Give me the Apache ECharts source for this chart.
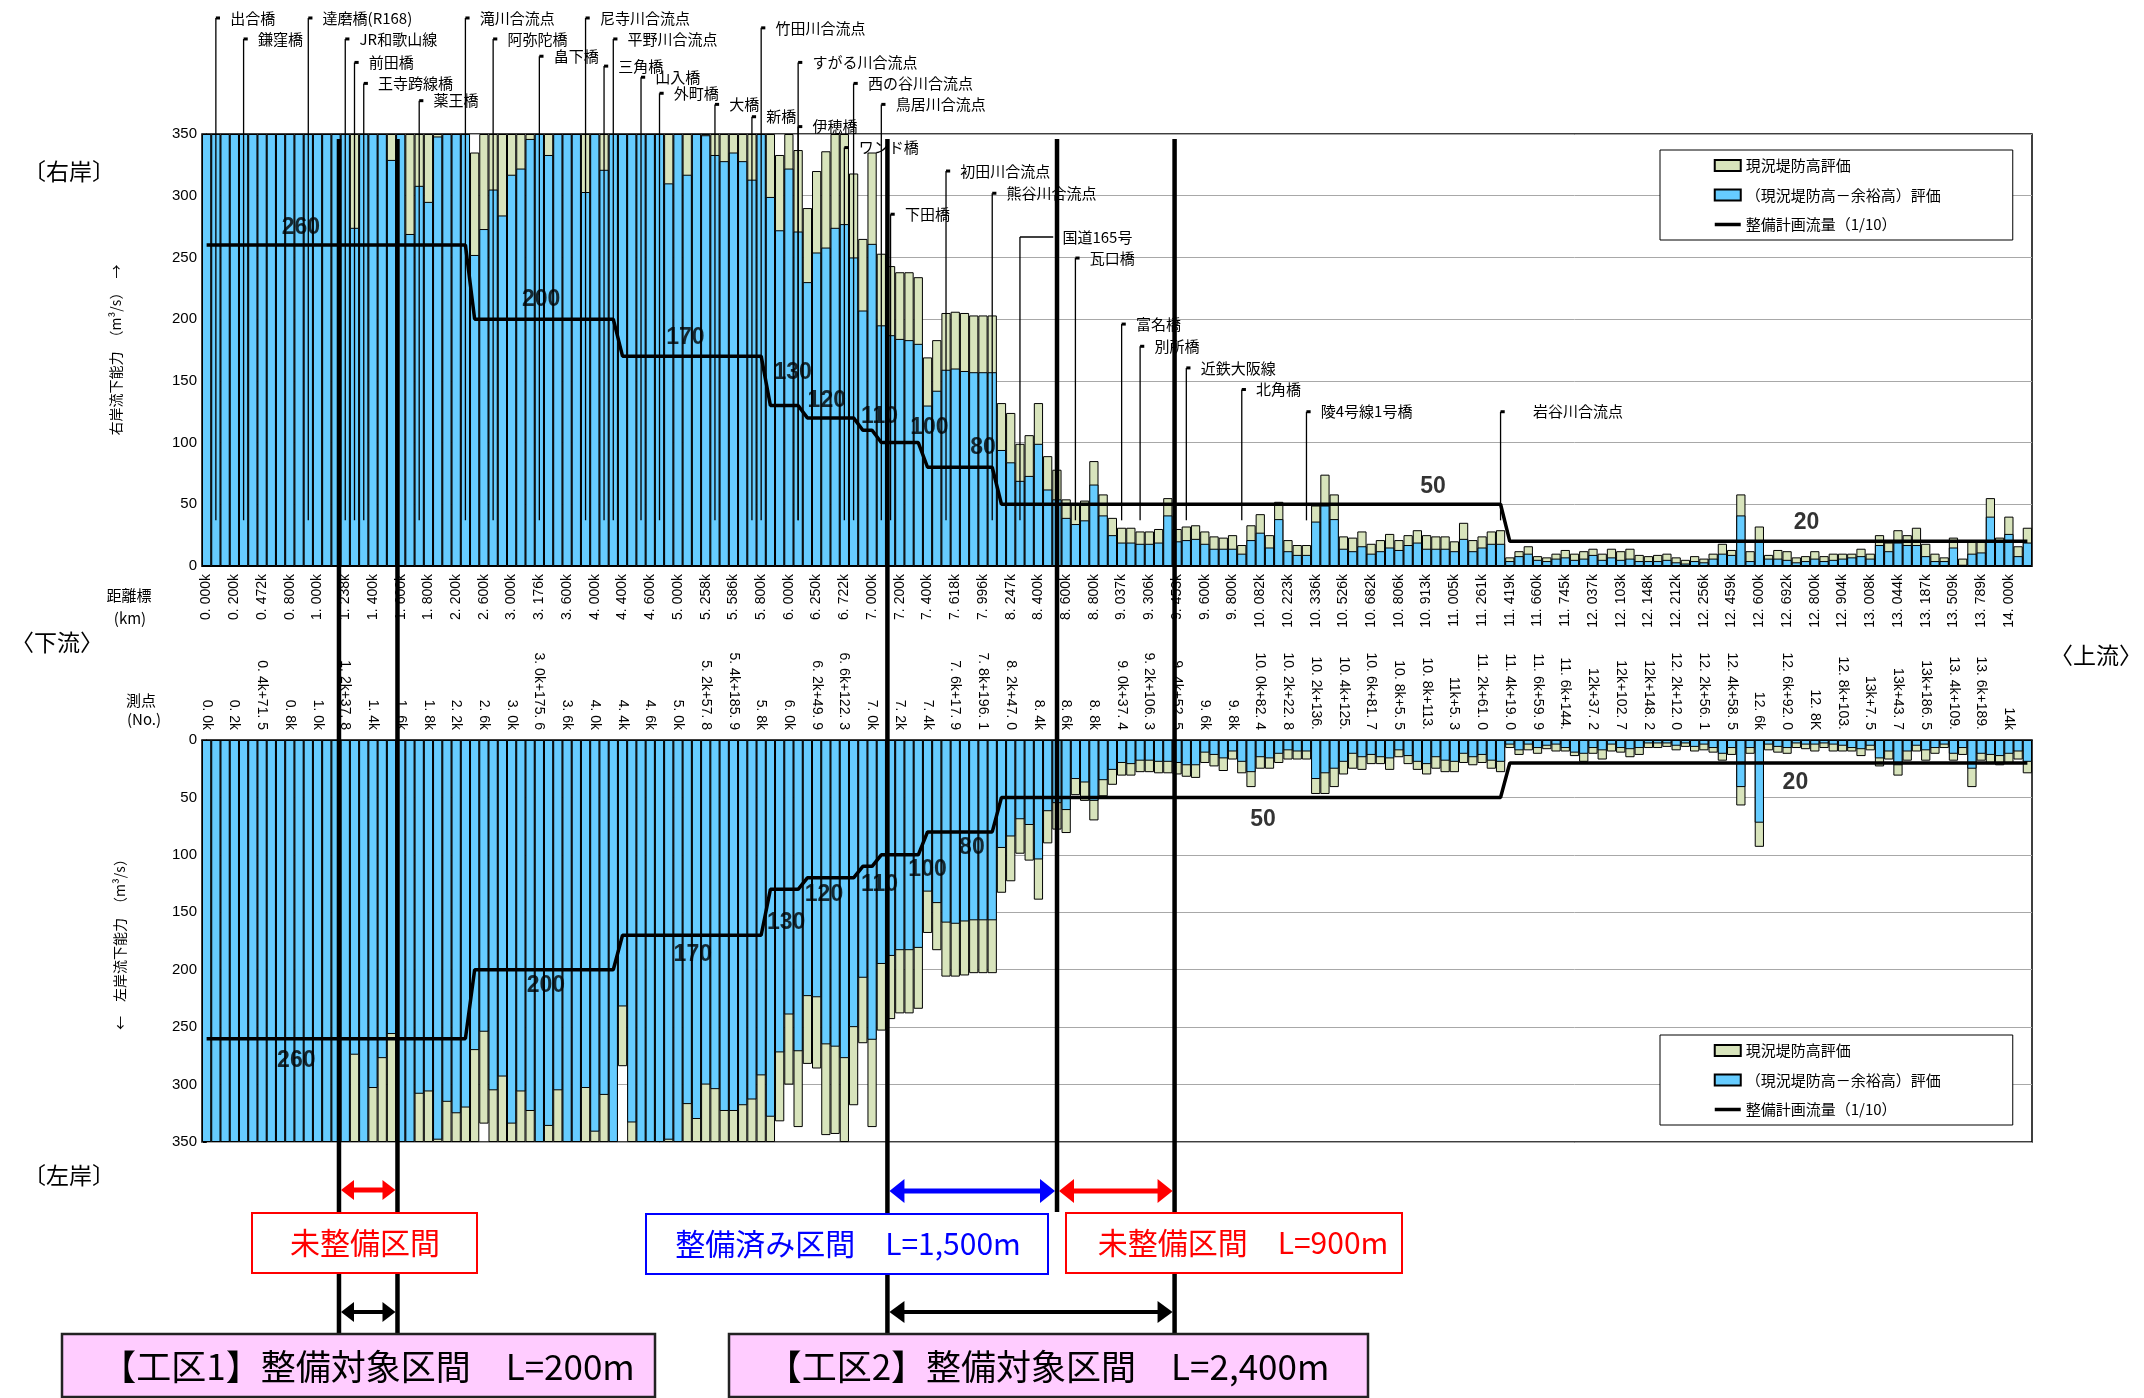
<!DOCTYPE html>
<html><head><meta charset="utf-8">
<script src="https://cdn.jsdelivr.net/npm/echarts@6/dist/echarts.min.js"></script>
<style>html,body{margin:0;padding:0;background:#fff}#c{width:2144px;height:1398px}</style>
</head><body><div id="c"></div>
<script>
const distLabels = ['0. 000k','0. 200k','0. 472k','0. 800k','1. 000k','1. 238k','1. 400k','1. 600k','1. 800k','2. 200k','2. 600k','3. 000k','3. 176k','3. 600k','4. 000k','4. 400k','4. 600k','5. 000k','5. 258k','5. 586k','5. 800k','6. 000k','6. 250k','6. 722k','7. 000k','7. 200k','7. 400k','7. 618k','7. 996k','8. 247k','8. 400k','8. 600k','8. 800k','9. 037k','9. 306k','9. 453k','9. 600k','9. 800k','10. 082k','10. 223k','10. 336k','10. 526k','10. 682k','10. 806k','10. 913k','11. 005k','11. 261k','11. 419k','11. 660k','11. 745k','12. 037k','12. 103k','12. 148k','12. 212k','12. 256k','12. 459k','12. 600k','12. 692k','12. 800k','12. 904k','13. 008k','13. 044k','13. 187k','13. 509k','13. 789k','14. 000k'];
const stationLabels = ['0. 0k','0. 2k','0. 4k+71. 5','0. 8k','1. 0k','1. 2k+37. 8','1. 4k','1. 6k','1. 8k','2. 2k','2. 6k','3. 0k','3. 0k+175. 6','3. 6k','4. 0k','4. 4k','4. 6k','5. 0k','5. 2k+57. 8','5. 4k+185. 9','5. 8k','6. 0k','6. 2k+49. 9','6. 6k+122. 3','7. 0k','7. 2k','7. 4k','7. 6k+17. 9','7. 8k+196. 1','8. 2k+47. 0','8. 4k','8. 6k','8. 8k','9. 0k+37. 4','9. 2k+106. 3','9. 4k+52. 5','9. 6k','9. 8k','10. 0k+82. 4','10. 2k+22. 8','10. 2k+136.','10. 4k+125.','10. 6k+81. 7','10. 8k+5. 5','10. 8k+113.','11k+5. 3','11. 2k+61. 0','11. 4k+19. 0','11. 6k+59. 9','11. 6k+144.','12k+37. 2','12k+102. 7','12k+148. 2','12. 2k+12. 0','12. 2k+56. 1','12. 4k+58. 5','12. 6k','12. 6k+92. 0','12. 8K','12. 8k+103.','13k+7. 5','13k+43. 7','13k+186. 5','13. 4k+109.','13. 6k+189.','14k'];

// right bank (upper)
const upperBlue = [
350,350,350,350,350,350,350,350,350,350,
350,350,350,350,350,350,274,350,350,350,
329,350,269,308,295,348,350,350,350,252,
273,305,284,317,322,346,350,333,350,350,
350,303,350,321,350,350,350,350,350,350,
310,350,317,350,349,333,328,335,328,313,
350,299,272,322,271,230,254,258,274,277,
250,207,261,195,187,184,183,180,130,142,
159,160,158,157,157,157,94,84,69,73,
99,62,54,39,34,37,66,41,25,19,
19,18,18,19,41,20,21,22,18,14,
14,14,10,21,27,15,38,12,9,9,
36,49,38,14,12,16,10,12,15,13,
17,19,14,14,14,12,22,12,15,18,
18,4,8,10,5,4,6,7,5,6,
9,5,7,5,6,4,4,4,5,3,
2,4,3,6,10,9,41,4,21,6,
6,5,3,4,6,4,5,6,7,8,
6,17,12,19,17,17,8,4,4,15,
1,10,11,40,21,26,8,19];
const upperGreen = [
350,350,350,350,350,350,350,350,350,350,
350,350,350,350,350,350,350,350,350,350,
350,350,350,350,350,350,350,350,350,335,
350,350,350,350,350,350,350,350,350,350,
350,350,350,350,350,350,350,350,350,350,
350,350,350,350,350,350,350,350,350,350,
350,350,333,350,337,290,320,336,350,350,
318,265,335,253,243,238,238,234,169,183,
205,206,205,203,203,203,132,124,99,106,
132,89,78,54,50,53,85,58,39,31,
31,28,28,30,55,30,32,33,28,24,
23,25,17,33,42,25,52,21,17,17,
49,74,58,24,23,28,18,21,26,21,
25,29,25,24,24,20,35,21,24,28,
29,7,12,16,8,7,10,13,10,12,
14,10,14,12,14,9,8,9,10,7,
5,8,6,10,18,13,58,12,32,9,
13,12,7,8,12,8,10,10,10,14,
10,25,19,29,25,31,18,10,7,23,
6,21,21,55,23,40,16,31];
// left bank (lower)
const lowerBlue = [
350,350,350,350,350,350,350,350,350,350,
350,350,350,350,350,350,274,350,303,277,
256,350,350,308,306,348,315,325,320,270,
254,305,293,334,306,323,350,336,305,350,
350,303,341,309,350,232,333,350,350,350,
348,350,317,330,300,304,323,323,318,313,
292,328,272,239,271,223,224,265,267,277,
250,207,261,195,188,183,183,181,132,142,
159,160,158,157,157,157,94,84,69,74,
104,62,55,61,34,37,53,35,26,20,
21,18,18,19,19,20,22,22,11,13,
16,10,19,28,15,16,12,9,10,10,
34,29,25,19,12,15,13,15,16,9,
14,19,21,15,18,19,12,15,13,18,
19,4,9,4,7,5,4,7,11,12,
7,9,4,7,8,7,3,3,3,5,
3,6,4,7,12,7,41,7,72,4,
6,7,3,4,4,3,4,5,7,8,
5,16,10,22,10,5,9,7,4,12,
7,25,12,13,14,12,10,19];
const lowerGreen = [
350,350,350,350,350,350,350,350,350,350,
350,350,350,350,350,350,350,350,350,350,
350,350,350,350,350,350,350,350,350,350,
334,350,350,350,350,350,350,350,350,350,
350,350,350,350,350,284,350,350,350,350,
350,350,350,350,350,350,350,350,350,350,
350,350,332,300,337,282,286,344,343,350,
318,264,337,253,243,238,238,234,168,183,
206,206,205,203,203,203,133,123,99,105,
139,90,78,81,48,53,70,49,39,31,
31,28,28,29,29,30,32,33,20,23,
27,17,29,41,25,25,20,17,17,17,
47,47,41,30,25,26,21,21,26,15,
21,26,30,25,28,28,20,22,20,25,
28,7,13,9,12,8,10,10,14,19,
12,17,10,11,15,13,7,7,6,9,
6,10,9,11,18,13,57,12,93,9,
11,12,7,8,10,7,10,10,10,14,
9,23,17,31,18,10,18,12,7,18,
13,41,18,21,22,20,17,29];

// plan discharge (1/10): [category index, m3/s]
const planSteps = [[0,260],[28,260],[29,200],[44,200],[45,170],[60,170],[61,130],[64,130],[65,120],[70,120],[71,110],[72,110],[73,100],[77,100],[78,80],[85,80],[86,50],[140,50],[141,20],[197,20]];
const planLabelsUpper = [[10.2,274,'260'],[36.2,216,'200'],[51.8,185,'170'],[63.4,157,'130'],[67.1,134,'120'],[72.8,121,'110'],[78.2,112,'100'],[84.0,96,'80'],[132.7,64,'50'],[173.1,35.5,'20']];
const planLabelsLower = [[9.7,279,'260'],[36.7,214,'200'],[52.6,187,'170'],[62.7,159,'130'],[66.8,135,'120'],[72.8,126,'110'],[78.0,113,'100'],[82.8,94,'80'],[114.3,69,'50'],[171.9,37,'20']];
// landmarks: [name, category index, label level (m3/s scale), label offset, connector]
const landmarks = [
['出合橋',1,444],['鎌窪橋',4,427],['達磨橋(R168)',11,444],['JR和歌山線',15,427],['前田橋',16,408],['王寺跨線橋',17,391],['薬王橋',23,377],
['滝川合流点',28,444],['阿弥陀橋',31,427],['畠下橋',36,413],['尼寺川合流点',41,444],['三角橋',43,405],['平野川合流点',44,427],['山入橋',47,396],['外町橋',49,383],
['大橋',55,374],['新橋',59,364],['竹田川合流点',60,436],['すがる川合流点',64,408],['伊穂橋',64,356],['西の谷川合流点',70,391],['鳥居川合流点',73,374],['ワンド橋',69,339],
['下田橋',74,285],['初田川合流点',80,320],['熊谷川合流点',85,302],['国道165号',88,266.5,4.6,3.6],['瓦口橋',94,249.5],['富名橋',99,196],['別所橋',101,178],
['近鉄大阪線',106,160.5],['北角橋',112,143],['陵4号線1号橋',119,125],['岩谷川合流点',140,125,3.5]];
const landmarkBase = 37;
// construction section boundaries (category units)
const sectionBounds = [14.32, 20.65, 73.66, 92.01, 104.73];

const names = ['現況堤防高評価','（現況堤防高－余裕高）評価','整備計画流量（1/10）'];
const JP = "'Noto Sans CJK JP','Noto Sans',sans-serif";
const NUM = "'Liberation Sans',Arial,sans-serif";
const GREEN = '#D8E4BC', BLUE = '#66CCFF';
const cats = upperBlue.map((_, i) => String(i));

function yAx(grid, inverse, name, gap) {
  return {
    type: 'value', gridIndex: grid, min: 0, max: 350, interval: 50, inverse: inverse,
    name: name, nameLocation: 'middle', nameGap: gap, nameRotate: 90,
    nameTextStyle: {fontSize: 14, fontFamily: JP, color: '#000'},
    axisLine: {show: true, lineStyle: {color: '#000', width: 1}},
    axisTick: {show: true, length: 4, lineStyle: {color: '#000'}},
    minorTick: {show: true, splitNumber: 5, length: 4, lineStyle: {color: '#000'}},
    axisLabel: {fontSize: 15, fontFamily: NUM, color: '#000', margin: 5},
    splitLine: {show: true, lineStyle: {color: '#A8A8A8', width: 1}}
  };
}
function catAx(grid, pos, labels, margin) {
  return {
    type: 'category', gridIndex: grid, data: cats, position: pos,
    axisLine: {show: true, onZero: false, lineStyle: {color: '#000', width: 1.2}},
    axisTick: {show: false},
    axisLabel: {interval: 2, rotate: 90, fontSize: 14, fontFamily: NUM, color: '#000', margin: margin,
      formatter: (v, i) => labels[Math.round(i / 3)] || ''},
    splitLine: {show: false}
  };
}
function barPair(xi, yi, g, b) {
  return [
    {type: 'bar', name: names[0], xAxisIndex: xi, yAxisIndex: yi, data: g, barGap: '-100%', barCategoryGap: '0%',
      itemStyle: {color: GREEN, borderColor: '#000', borderWidth: 1}, z: 2, silent: true},
    {type: 'bar', name: names[1], xAxisIndex: xi, yAxisIndex: yi, data: b, barGap: '-100%', barCategoryGap: '0%',
      itemStyle: {color: BLUE, borderColor: '#000', borderWidth: 1}, z: 2, silent: true}
  ];
}
function planLine(xi, yi) {
  return {type: 'line', name: names[2], xAxisIndex: xi, yAxisIndex: yi, data: planSteps, symbol: 'none',
    lineStyle: {color: '#000', width: 3.5}, itemStyle: {color: '#000'}, z: 5, silent: true, animation: false};
}
function planText(xi, yi, arr) {
  return {type: 'scatter', xAxisIndex: xi, yAxisIndex: yi, symbolSize: 0, z: 6, silent: true,
    data: arr.map(a => ({value: [a[0], a[1]], name: a[2]})),
    label: {show: true, position: 'inside', formatter: '{b}', fontSize: 23, fontWeight: 'bold', fontFamily: NUM, color: '#000'}};
}
function legendBox(top) {
  return {left: 1660, top: top, orient: 'vertical', itemGap: 14.5, itemWidth: 26, itemHeight: 11,
    padding: [8, 72, 8, 53], borderColor: '#000', borderWidth: 1, backgroundColor: '#fff',
    textStyle: {fontSize: 15, fontFamily: JP, color: '#000'}, selectedMode: false,
    data: [{name: names[0], icon: 'rect'}, {name: names[1], icon: 'rect'},
      {name: names[2], itemStyle: {opacity: 0}, lineStyle: {color: '#000', width: 3.5, opacity: 1}}]};
}

const option = {
  animation: false, backgroundColor: '#fff',
  textStyle: {fontFamily: JP},
  grid: [
    {left: 202, top: 134, width: 1830, height: 432, show: true, borderColor: '#000', borderWidth: 1.5, backgroundColor: '#fff'},
    {left: 202, top: 740, width: 1830, height: 402, show: true, borderColor: '#000', borderWidth: 1.5, backgroundColor: '#fff'}
  ],
  xAxis: [
    catAx(0, 'bottom', distLabels, 8),
    catAx(1, 'top', stationLabels, 10),
    {type: 'value', gridIndex: 0, min: -0.5, max: 197.5, show: false},
    {type: 'value', gridIndex: 1, min: -0.5, max: 197.5, show: false}
  ],
  yAxis: [
    yAx(0, false, '右岸流下能力　（m³/s）　→', 79),
    yAx(1, true, '←　左岸流下能力　（m³/s）', 75)
  ],
  legend: [legendBox(150), legendBox(1035)],
  series: [
    ...barPair(0, 0, upperGreen, upperBlue),
    ...barPair(1, 1, lowerGreen, lowerBlue),
    {type: 'custom', xAxisIndex: 2, yAxisIndex: 0, clip: false, z: 4, silent: true,
      data: landmarks.map(l => [l[1], l[2]]),
      renderItem: (params, api) => {
        const lm = landmarks[params.dataIndex];
        const off = lm[3] || 1.55, conn = lm[4] || 0.45;
        const top = api.coord([lm[1], lm[2]]);
        const bot = api.coord([lm[1], landmarkBase]);
        const c = api.coord([lm[1] + conn, lm[2]]);
        const t = api.coord([lm[1] + off, lm[2]]);
        return {type: 'group', children: [
          {type: 'line', shape: {x1: top[0], y1: top[1], x2: bot[0], y2: bot[1]}, style: {stroke: '#000', lineWidth: 1.3}},
          {type: 'line', shape: {x1: top[0], y1: top[1], x2: c[0], y2: c[1]}, style: {stroke: '#000', lineWidth: lm[4] ? 1.5 : 3}},
          {type: 'text', x: t[0], y: t[1], style: {text: lm[0], fontSize: 15, fontFamily: JP, fill: '#000', align: 'left', verticalAlign: 'middle'}}
        ]};
      }},
    planLine(2, 0), planLine(3, 1),
    planText(2, 0, planLabelsUpper), planText(3, 1, planLabelsLower)
  ]
};

const chart = echarts.init(document.getElementById('c'), null, {renderer: 'canvas'});
chart.setOption(option);

// overlay annotations
const px = v => chart.convertToPixel({xAxisIndex: 2}, v);
const xs = sectionBounds.map(px);
const g = [];
function txt(x, y, s, size, color, align) {
  g.push({type: 'text', x: x, y: y, z: 120, style: {text: s, fontSize: size, fontFamily: JP, fill: color || '#000', align: align || 'center', verticalAlign: 'middle'}});
}
// side labels
txt(23, 171, '〔右岸〕', 23, '#000', 'left');
txt(11, 642, '〈下流〉', 23, '#000', 'left');
txt(2050, 655, '〈上流〉', 23, '#000', 'left');
txt(23, 1175, '〔左岸〕', 23, '#000', 'left');
txt(129, 595, '距離標', 15);
txt(130, 618, '(km)', 15);
txt(141, 700, '測点', 15);
txt(144, 719, '(No.)', 15);
// thick section lines
xs.forEach((x, i) => {
  g.push({type: 'line', z: 100, shape: {x1: x, y1: 139, x2: x, y2: i === 3 ? 1212 : 1333}, style: {stroke: '#000', lineWidth: 4.5}});
});
function arrow(x1, x2, y, color, w, hl, hh) {
  g.push({type: 'line', z: 105, shape: {x1: x1 + hl - 1, y1: y, x2: x2 - hl + 1, y2: y}, style: {stroke: color, lineWidth: w}});
  g.push({type: 'polygon', z: 105, shape: {points: [[x1, y], [x1 + hl, y - hh], [x1 + hl, y + hh]]}, style: {fill: color}});
  g.push({type: 'polygon', z: 105, shape: {points: [[x2, y], [x2 - hl, y - hh], [x2 - hl, y + hh]]}, style: {fill: color}});
}
arrow(xs[0] + 2, xs[1] - 2, 1190, '#FF0000', 5, 13, 10);
arrow(xs[2] + 2, xs[3] - 2, 1191, '#0000FF', 5, 15, 12);
arrow(xs[3] + 2, xs[4] - 2, 1191, '#FF0000', 5, 15, 12);
arrow(xs[0] + 2, xs[1] - 2, 1312, '#000', 4, 13, 10);
arrow(xs[2] + 2, xs[4] - 2, 1312, '#000', 4, 15, 11);
function box(x, y, w, h, stroke, fill, lw) {
  g.push({type: 'rect', z: 110, shape: {x: x, y: y, width: w, height: h}, style: {fill: fill, stroke: stroke, lineWidth: lw}});
}
box(252, 1213, 225, 60, '#FF0000', '#fff', 2);
txt(365, 1243, '未整備区間', 30, '#FF0000');
box(646, 1214, 402, 60, '#0000FF', '#fff', 2);
txt(848, 1244, '整備済み区間　L=1,500m', 30, '#0000FF');
box(1066, 1213, 336, 60, '#FF0000', '#fff', 2);
txt(1243, 1243, '未整備区間　L=900m', 30, '#FF0000');
box(62, 1334, 593, 63, '#222', '#FFCCFF', 2.5);
txt(368, 1367, '【工区1】整備対象区間　L=200m', 35, '#000');
box(729, 1334, 639, 63, '#222', '#FFCCFF', 2.5);
txt(1048, 1367, '【工区2】整備対象区間　L=2,400m', 35, '#000');
chart.setOption({graphic: g});
</script></body></html>
